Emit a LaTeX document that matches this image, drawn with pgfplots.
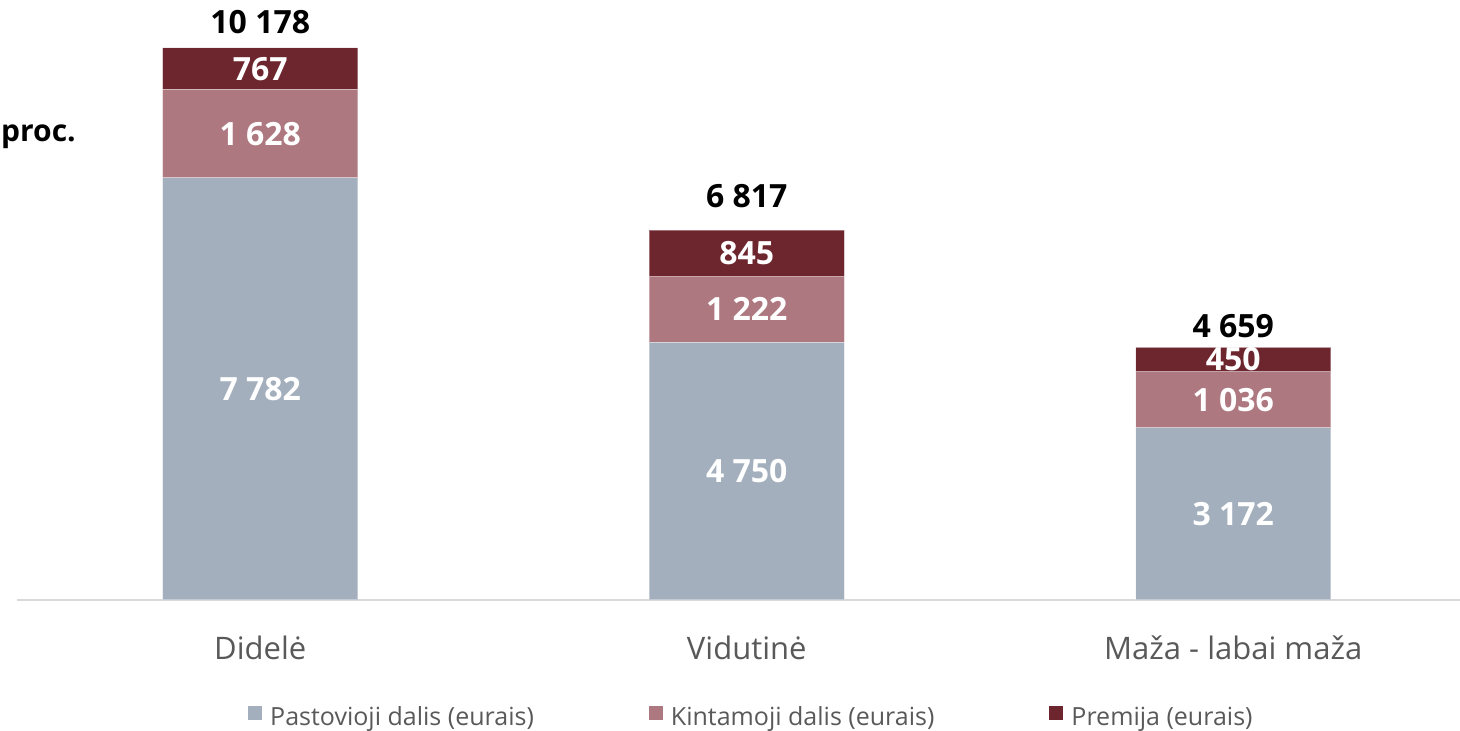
\documentclass[border=0pt]{standalone}
\usepackage{fontspec}
\setmainfont{Open Sans}
\usepackage{pgfplots}
\usepackage{pgfplotstable}
\pgfplotsset{compat=1.18}
\definecolor{cPast}{HTML}{A3AFBC}
\definecolor{cKint}{HTML}{AE7880}
\definecolor{cPrem}{HTML}{6D252E}
\definecolor{cTxt}{HTML}{595959}
\pgfplotstableread{
x y
0 7782
1 4750
2 3172
}\pasto
\pgfplotstableread{
x y
0 1628
1 1222
2 1036
}\kint
\pgfplotstableread{
x y
0 767
1 845
2 450
}\prem
\pgfplotstableread[col sep=comma]{
x,y,label
0,3891,7 782
0,8596,1 628
0,9793,767
1,2375,4 750
1,5361,1 222
1,6394,845
2,1586,3 172
2,3690,1 036
2,4433,450
}\seglabels
\pgfplotstableread[col sep=comma]{
x,y,label
0,10656,10 178
1,7448,6 817
2,5052,4 659
}\totals
\begin{document}
\begin{tikzpicture}[x=1pt,y=1pt]
\useasboundingbox (0,0) rectangle (1460,731);
\pgfplotsset{common/.style={
  scale only axis, width=1459.5pt, height=600pt,
  at={(17pt,131pt)}, anchor=south west,
  xmin=-0.5, xmax=2.5, ymin=0, ymax=11062, clip=false}}
\begin{axis}[common,
  ybar stacked, bar width=195pt,
  axis y line=none, axis x line*=bottom,
  x axis line style={-, draw=black!15, line width=1.5pt},
  xtick={0,1,2}, xticklabels={Didelė,Vidutinė,Maža - labai maža},
  major tick length=0pt,
  xticklabel style={anchor=base, yshift=-60pt, font=\fontsize{31}{36}\selectfont, text=cTxt},
  ytick=\empty,
  legend columns=3,
  legend style={draw=none, fill=none, inner sep=0pt, at={(0.1583,-0.195)}, anchor=west,
    font=\fontsize{25}{30}\selectfont, text=cTxt,
    /tikz/every odd column/.append style={column sep=6pt},
    /tikz/every even column/.append style={column sep=113pt}},
  legend image code/.code={\path[#1,draw=none] (0pt,-3pt) rectangle (14pt,11pt);},
]
\addplot[fill=cPast, draw=white, draw opacity=0.35, line width=1pt] table[x=x,y=y]{\pasto};
\addplot[fill=cKint, draw=white, draw opacity=0.35, line width=1pt] table[x=x,y=y]{\kint};
\addplot[fill=cPrem, draw=white, draw opacity=0.35, line width=1pt] table[x=x,y=y]{\prem};
\legend{Pastovioji dalis (eurais),Kintamoji dalis (eurais),Premija (eurais)}
\end{axis}
\begin{axis}[common, hide axis]
\addplot[only marks, mark=*, mark size=0pt, mark options={draw=none,fill=none},
  nodes near coords, point meta=explicit symbolic,
  nodes near coords style={anchor=center, inner sep=0pt, text=white, font=\bfseries\fontsize{32}{38}\selectfont}]
  table[x=x,y=y,meta=label]{\seglabels};
\addplot[only marks, mark=*, mark size=0pt, mark options={draw=none,fill=none},
  nodes near coords, point meta=explicit symbolic,
  nodes near coords style={anchor=center, inner sep=0pt, text=black, font=\bfseries\fontsize{32}{38}\selectfont}]
  table[x=x,y=y,meta=label]{\totals};
\end{axis}
\node[anchor=west, inner sep=0pt, font=\bfseries\fontsize{30}{36}\selectfont] at (1,594) {proc.};
\end{tikzpicture}
\end{document}
